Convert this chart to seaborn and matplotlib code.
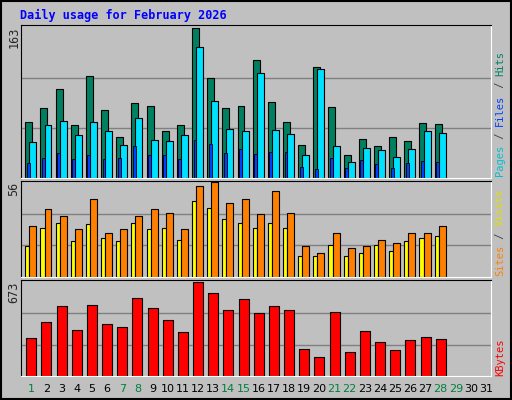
import matplotlib
matplotlib.use("Agg")
import matplotlib.pyplot as plt
import seaborn as sns
import numpy as np

days = list(range(1, 32))
hits = [60, 76, 96, 57, 111, 74, 44, 81, 78, 51, 57, 163, 108, 76, 78, 128, 82, 61, 35, 121, 77, 25, 42, 34, 44, 40, 59, 58]
files = [39, 57, 62, 46, 60, 51, 35, 65, 41, 40, 46, 142, 83, 53, 51, 114, 52, 47, 24, 118, 34, 17, 32, 30, 22, 31, 51, 48]
pages = [16, 21, 27, 20, 25, 20, 21, 34, 25, 24, 20, 41, 36, 27, 31, 26, 28, 28, 11, 9, 21, 10, 19, 15, 10, 16, 18, 17]
visits = [30, 40, 36, 28, 46, 26, 28, 36, 40, 38, 28, 54, 56, 44, 46, 37, 51, 38, 18, 14, 26, 17, 18, 22, 20, 26, 26, 30]
sites = [18, 29, 32, 21, 31, 23, 21, 32, 28, 29, 22, 45, 41, 34, 32, 29, 32, 29, 12, 12, 19, 12, 14, 19, 15, 21, 23, 24]
kbytes = [275, 386, 504, 327, 511, 371, 349, 555, 489, 400, 312, 673, 592, 474, 548, 452, 504, 474, 194, 135, 459, 172, 319, 246, 187, 260, 282, 268]
weekend = {1, 7, 8, 14, 15, 21, 22, 28, 29}

sns.set_style("white")
plt.rcParams['font.family'] = ['DejaVu Sans Mono', 'DejaVu Sans']
BG = "#C0C0C0"
W, H = 512, 400
fig = plt.figure(figsize=(5.12, 4.0), dpi=100, facecolor=BG)

def ax_px(x0, y0, x1, y1):
    return fig.add_axes([x0 / W, 1 - y1 / H, (x1 - x0) / W, (y1 - y0) / H])

def style(ax, ymax):
    ax.set_facecolor(BG)
    ax.set_xlim(0, 31)
    ax.set_ylim(0, ymax * 1.02)
    for y in (ymax / 3, 2 * ymax / 3):
        ax.axhline(y, color="#808080", lw=1, zorder=0)
    ax.set_xticks([]); ax.set_yticks([])
    for s in ("left", "top"):
        ax.spines[s].set_color("black")
    for s in ("right", "bottom"):
        ax.spines[s].set_color("white")

n = len(hits)
idx = np.arange(n)

a1 = ax_px(20.7, 25, 490.7, 177.5)
style(a1, 163)
a1.bar(idx + 0.30, hits, width=0.46, align="edge", color="#008060", edgecolor="black", lw=0.8)
a1.bar(idx + 0.57, files, width=0.46, align="edge", color="#00E0FF", edgecolor="black", lw=0.8)
a1.bar(idx + 0.40, pages, width=0.19, align="edge", color="#0040FF", edgecolor="black", lw=0.6)

a2 = ax_px(20.7, 180.5, 490.7, 276.5)
style(a2, 56)
a2.bar(idx + 0.30, sites, width=0.27, align="edge", color="#FFFF00", edgecolor="black", lw=0.8)
a2.bar(idx + 0.57, visits, width=0.46, align="edge", color="#FF8000", edgecolor="black", lw=0.8)

a3 = ax_px(20.7, 280, 490.7, 376)
style(a3, 673)
a3.bar(idx + 0.37, kbytes, width=0.66, align="edge", color="#FF0000", edgecolor="black", lw=0.8)

for i, d in enumerate(days):
    fig.text((20.7 + (i + 0.5) * 15.16 + 3) / W, 1 - 389 / H, str(d), ha="center", va="center",
             fontsize=8, family="DejaVu Sans", color="#008040" if d in weekend else "black")

fig.text(20 / W, 1 - 15 / H, "Daily usage for February 2026", color="#0000FF", fontsize=8.5,
         fontweight="bold", va="center", ha="left")

for txt, y in (("163", 27), ("56", 182), ("673", 282)):
    fig.text(14 / W, 1 - y / H, txt, rotation=90, ha="center", va="top", fontsize=8.5)

FS = 7.5
CH = FS * 0.602 * 100 / 72

def vtext(parts, ybottom):
    y = ybottom
    for t, c in parts:
        fig.text(500 / W, 1 - y / H, t, rotation=90, ha="center", va="bottom", fontsize=FS, color=c)
        y -= len(t) * CH

vtext([("Pages", "#00C0D0"), (" / ", "#404040"), ("Files", "#0040FF"), (" / ", "#404040"), ("Hits", "#008060")], 176)
vtext([("Sites", "#FF8000"), (" / ", "#404040"), ("Visits", "#E0E000")], 276)
vtext([("KBytes", "#FF0000")], 376)

fig.patches.append(plt.Rectangle((0.001, 0.002), 0.997, 0.996, transform=fig.transFigure,
                                 fill=False, edgecolor="black", lw=1.5))
fig.savefig("out.png", dpi=100, facecolor=BG)
